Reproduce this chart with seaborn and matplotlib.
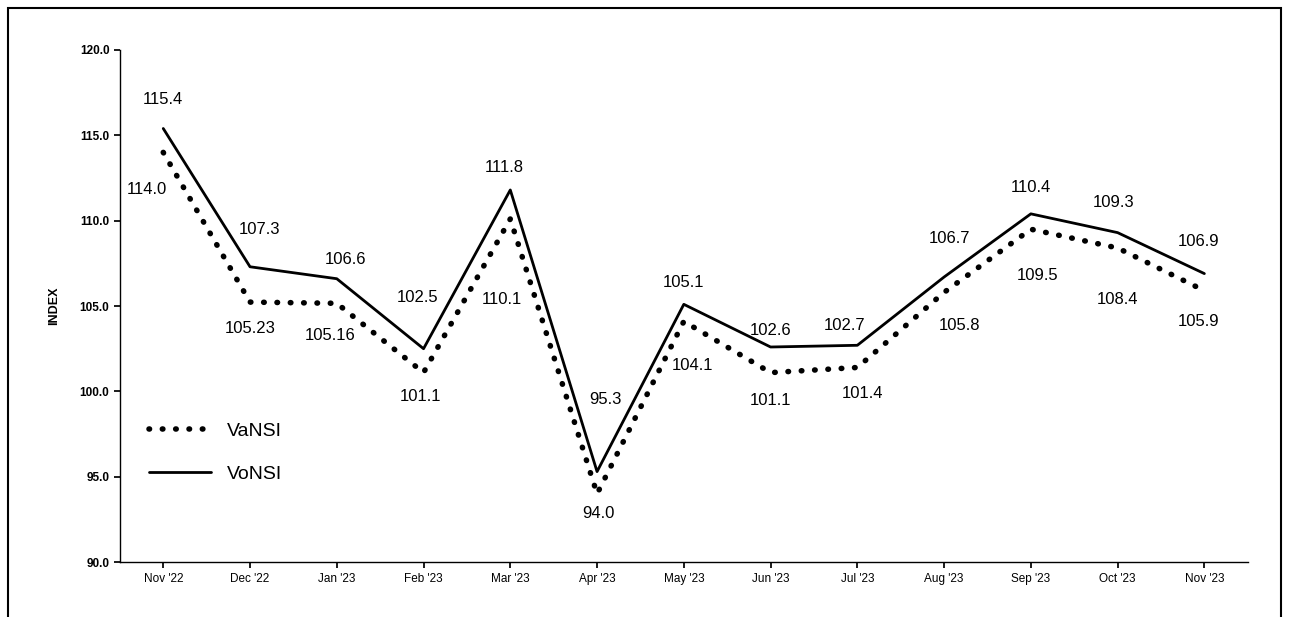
import numpy as np
import pandas as pd
import matplotlib
matplotlib.use("Agg")
import matplotlib.pyplot as plt
import seaborn as sns
from matplotlib.patches import Rectangle

# =========================
# Data
# =========================
months = ["Nov '22", "Dec '22", "Jan '23", "Feb '23", "Mar '23", "Apr '23", "May '23",
          "Jun '23", "Jul '23", "Aug '23", "Sep '23", "Oct '23", "Nov '23"]
vonsi = [115.4, 107.3, 106.6, 102.5, 111.8, 95.3, 105.1, 102.6, 102.7, 106.7, 110.4, 109.3, 106.9]
vansi = [114.0, 105.23, 105.16, 101.1, 110.1, 94.0, 104.1, 101.1, 101.4, 105.8, 109.5, 108.4, 105.9]
vonsi_txt = ["115.4", "107.3", "106.6", "102.5", "111.8", "95.3", "105.1", "102.6", "102.7",
             "106.7", "110.4", "109.3", "106.9"]
vansi_txt = ["114.0", "105.23", "105.16", "101.1", "110.1", "94.0", "104.1", "101.1", "101.4",
             "105.8", "109.5", "108.4", "105.9"]

# label offsets (points)
vo_off = [(0, 21), (7, 27), (6, 14), (-4, 37), (-4, 16), (6, 52), (0, 16),
          (0, 12), (-9, 14), (4, 28), (0, 19), (-3, 22), (-4, 23)]
va_off = [(-12, -27), (0, -19), (-5, -23), (-2, -17), (-6, -58), (1, -14), (6, -32),
          (0, -20), (4, -19), (11, -24), (5, -33), (0, -37), (-4, -22)]

df = pd.DataFrame({"x": list(range(len(months))) * 2,
                   "val": vansi + vonsi,
                   "series": ["VaNSI"] * len(months) + ["VoNSI"] * len(months)})

sns.set_theme(style="white")
plt.rcParams["font.family"] = ["Liberation Sans", "DejaVu Sans"]
plt.rcParams["text.color"] = "black"
plt.rcParams["xtick.color"] = "black"
plt.rcParams["ytick.color"] = "black"
plt.rcParams["axes.labelcolor"] = "black"

fig = plt.figure(figsize=(12.89, 6.17), dpi=100)
ax = fig.add_axes([0.093, 0.089, 0.875, 0.83])
fig.patches.append(Rectangle((0.006, -0.05), 0.988, 1.037, transform=fig.transFigure,
                             fill=False, edgecolor="black", linewidth=1.5))

sns.lineplot(data=df[df.series == "VaNSI"], x="x", y="val", ax=ax, color="black",
             linewidth=4, linestyle=(0, (0.1, 2.3)), dash_capstyle="round", label="VaNSI")
sns.lineplot(data=df[df.series == "VoNSI"], x="x", y="val", ax=ax, color="black",
             linewidth=2, label="VoNSI")

for i in range(len(months)):
    ax.annotate(vonsi_txt[i], (i, vonsi[i]), xytext=vo_off[i], textcoords="offset points",
                ha="center", va="center", fontsize=12)
    ax.annotate(vansi_txt[i], (i, vansi[i]), xytext=va_off[i], textcoords="offset points",
                ha="center", va="center", fontsize=12)

ax.set_xlim(-0.5, len(months) - 0.5)
ax.set_ylim(90, 120)
ax.set_yticks(np.arange(90, 120.1, 5))
ax.set_yticklabels([f"{v:.1f}" for v in np.arange(90, 120.1, 5)], fontsize=8.5, fontweight="bold")
ax.set_xticks(range(len(months)))
ax.set_xticklabels(months, fontsize=8.5)
ax.tick_params(axis="both", length=4, color="black", direction="out", left=True, bottom=True)
ax.set_xlabel("")
ax.set_ylabel("INDEX", fontsize=9, fontweight="bold", labelpad=14)
for s in ["top", "right"]:
    ax.spines[s].set_visible(False)
for s in ["left", "bottom"]:
    ax.spines[s].set_color("black")
    ax.spines[s].set_linewidth(1)

ax.legend(loc="lower left", bbox_to_anchor=(0.01, 0.12), frameon=False, fontsize=14,
          handlelength=3.2, labelspacing=1.3)

plt.savefig("out.png", dpi=100)
